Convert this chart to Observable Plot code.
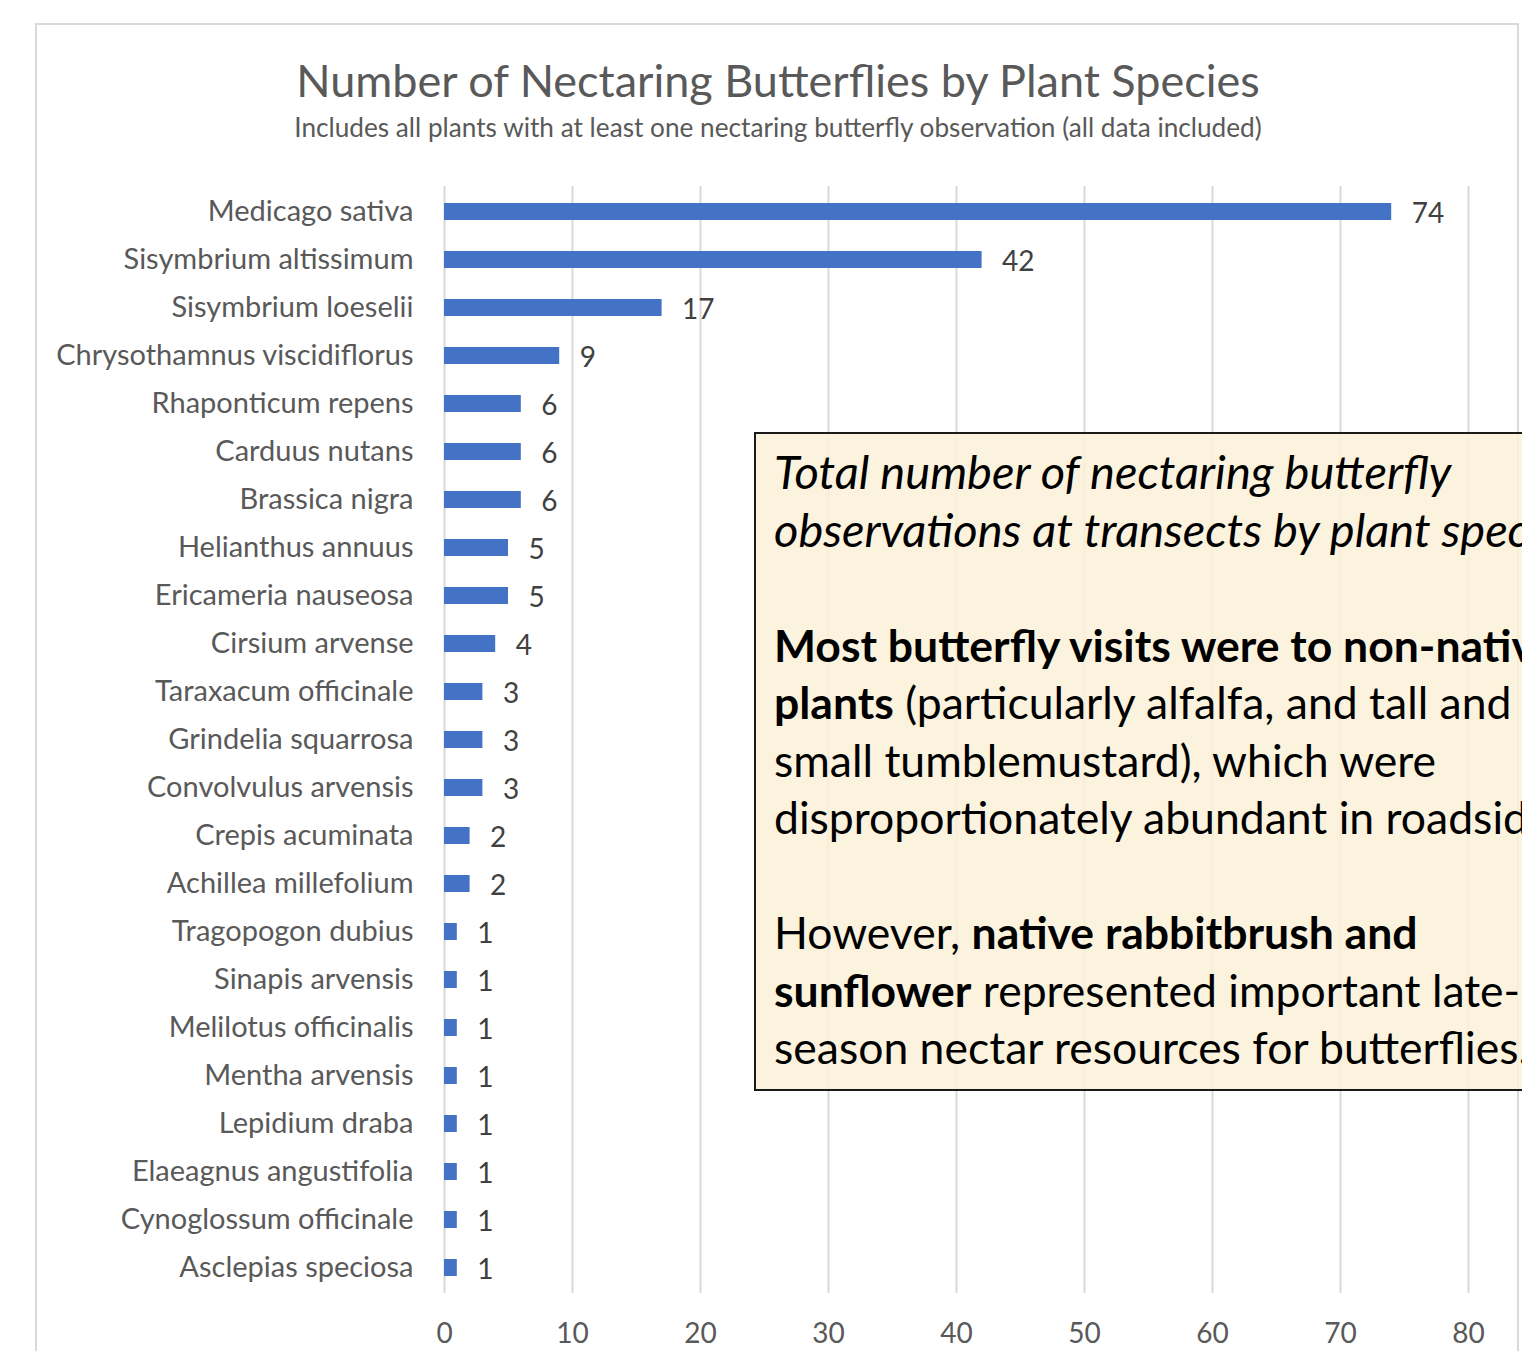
<!DOCTYPE html>
<html>
<head>
<meta charset="utf-8">
<script src="https://cdn.jsdelivr.net/npm/d3@7"></script>
<script src="https://cdn.jsdelivr.net/npm/@observablehq/plot@0.6"></script>
<style>
  html, body { margin: 0; padding: 0; background: #fff; }
  #page { position: relative; width: 1522px; height: 1351px; overflow: hidden; font-family: Lato, "Open Sans", sans-serif; }
  #frame { position: absolute; left: 35px; top: 23px; width: 1484px; height: 1400px; border: 2px solid #d9d9d9; box-sizing: border-box; }
  #title { position: absolute; left: 35px; width: 1486px; top: 53px; text-align: center; font-size: 45px; color: #595959; line-height: 54px; }
  #subtitle { position: absolute; left: 35px; width: 1486px; top: 111px; text-align: center; font-size: 26.2px; color: #595959; line-height: 32px; }
  #chart { position: absolute; left: 0; top: 160px; }
  #note { position: absolute; left: 754px; top: 432px; width: 900px; height: 659px; box-sizing: border-box;
          border: 2px solid #1a1a1a; background: rgba(252,241,216,0.85); padding: 9px 0 0 18px;
          font-size: 44.5px; line-height: 57.5px; color: #000; white-space: nowrap; overflow: hidden; }
  #note i { font-size: 47px; }
</style>
</head>
<body>
<div id="page">
  <div id="frame"></div>
  <div id="title">Number of Nectaring Butterflies by Plant Species</div>
  <div id="subtitle">Includes all plants with at least one nectaring butterfly observation (all data included)</div>
  <div id="chart"></div>
  <div id="note"><i>Total number of nectaring butterfly<br>observations at transects by plant species.</i><br><br><b>Most butterfly visits were to non-native<br>plants</b> (particularly alfalfa, and tall and<br>small tumblemustard), which were<br>disproportionately abundant in roadsides.<br><br>However, <b>native rabbitbrush and<br>sunflower</b> represented important late-<br>season nectar resources for butterflies.</div>
</div>
<script>
const species = ["Medicago sativa","Sisymbrium altissimum","Sisymbrium loeselii","Chrysothamnus viscidiflorus","Rhaponticum repens","Carduus nutans","Brassica nigra","Helianthus annuus","Ericameria nauseosa","Cirsium arvense","Taraxacum officinale","Grindelia squarrosa","Convolvulus arvensis","Crepis acuminata","Achillea millefolium","Tragopogon dubius","Sinapis arvensis","Melilotus officinalis","Mentha arvensis","Lepidium draba","Elaeagnus angustifolia","Cynoglossum officinale","Asclepias speciosa"];
const counts = [74,42,17,9,6,6,6,5,5,4,3,3,3,2,2,1,1,1,1,1,1,1,1];
const xTicks = [0,10,20,30,40,50,60,70,80];

const data = species.map((s, i) => ({species: s, count: counts[i]}));

const chart = Plot.plot({
  width: 1522,
  height: 1191,
  marginLeft: 444,
  marginRight: 54,
  marginTop: 26,
  marginBottom: 58,
  style: {fontFamily: "Lato, 'Open Sans', sans-serif", background: "transparent", overflow: "visible"},
  x: {domain: [0, 80]},
  y: {domain: species, paddingInner: 0.65, paddingOuter: 0.325},
  marks: [
    Plot.ruleX(xTicks, {stroke: "#d9d9d9", strokeWidth: 2}),
    Plot.barX(data, {y: "species", x: "count", fill: "#4472c4"}),
    Plot.text(data, {y: "species", x: "count", text: d => String(d.count), textAnchor: "start", dx: 20, dy: 2, fontSize: 28, fill: "#404040"}),
    Plot.axisX({ticks: xTicks, tickSize: 0, tickPadding: 30, fontSize: 28, color: "#595959", label: null}),
    Plot.axisY({tickSize: 0, tickPadding: 31, fontSize: 29, color: "#595959", label: null})
  ]
});
document.getElementById("chart").appendChild(chart);
</script>
</body>
</html>
